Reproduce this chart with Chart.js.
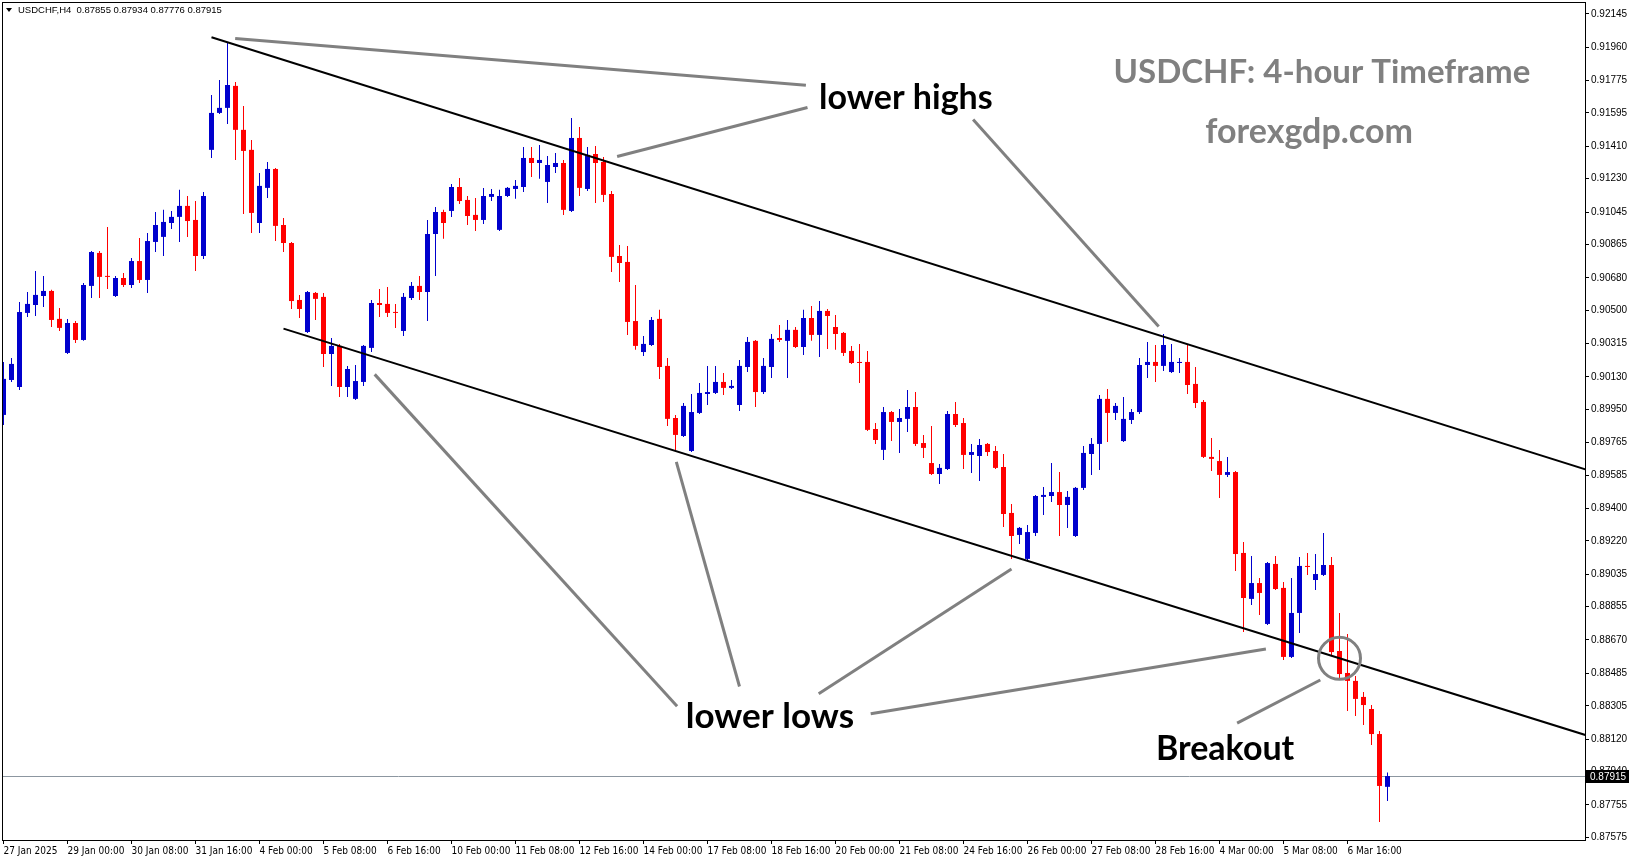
<!DOCTYPE html>
<html>
<head>
<meta charset="utf-8">
<title>USDCHF H4</title>
<script src="https://cdn.jsdelivr.net/npm/chart.js@4.4.1/dist/chart.umd.min.js"></script>
<style>
  html, body { margin: 0; padding: 0; background: #fff; }
  canvas { display: block; }
</style>
</head>
<body>
<canvas id="myChart" width="1631" height="861"></canvas>
<script>
// x axis labels, one every 8 candles
const xTickLabels = ['27 Jan 2025', '29 Jan 00:00', '30 Jan 08:00', '31 Jan 16:00', '4 Feb 00:00', '5 Feb 08:00',
  '6 Feb 16:00', '10 Feb 00:00', '11 Feb 08:00', '12 Feb 16:00', '14 Feb 00:00', '17 Feb 08:00', '18 Feb 16:00',
  '20 Feb 00:00', '21 Feb 08:00', '24 Feb 16:00', '26 Feb 00:00', '27 Feb 08:00', '28 Feb 16:00', '4 Mar 00:00',
  '5 Mar 08:00', '6 Mar 16:00'];
const xTickStep = 8;

// price axis labels
const yTickValues = [0.92145, 0.91960, 0.91775, 0.91595, 0.91410, 0.91230, 0.91045, 0.90865, 0.90680, 0.90500,
  0.90315, 0.90130, 0.89950, 0.89765, 0.89585, 0.89400, 0.89220, 0.89035, 0.88855, 0.88670, 0.88485, 0.88305,
  0.88120, 0.87940, 0.87755, 0.87575];

// H4 candles
let opens = [
  0.89919, 0.90113, 0.90074, 0.90485, 0.90529, 0.90579, 0.90607, 0.90452, 0.90263, 0.90429,
  0.90335, 0.90635, 0.90818, 0.90690, 0.90579, 0.90679, 0.90640, 0.90773, 0.90668, 0.90879,
  0.90907, 0.90984, 0.91018, 0.91079, 0.91001, 0.90801, 0.91390, 0.91595, 0.91623, 0.91745,
  0.91501, 0.91390, 0.90984, 0.91179, 0.91284, 0.90973, 0.90873, 0.90557, 0.90379, 0.90596,
  0.90574, 0.90257, 0.90302, 0.90074, 0.90008, 0.90102, 0.90291, 0.90540, 0.90535, 0.90490,
  0.90385, 0.90568, 0.90635, 0.90601, 0.90923, 0.91045, 0.91051, 0.91184, 0.91112, 0.91029,
  0.91001, 0.91129, 0.90946, 0.91134, 0.91173, 0.91184, 0.91345, 0.91317, 0.91212, 0.91295,
  0.91317, 0.91051, 0.91456, 0.91173, 0.91367, 0.91323, 0.91145, 0.90801, 0.90768, 0.90440,
  0.90268, 0.90307, 0.90452, 0.90191, 0.89902, 0.89802, 0.89719, 0.89930, 0.90035, 0.90041,
  0.90102, 0.90069, 0.89974, 0.90185, 0.90330, 0.90046, 0.90185, 0.90346, 0.90330, 0.90391,
  0.90296, 0.90457, 0.90363, 0.90496, 0.90407, 0.90374, 0.90274, 0.90213, 0.90213, 0.89841,
  0.89725, 0.89935, 0.89880, 0.89897, 0.89963, 0.89763, 0.89652, 0.89591, 0.89619, 0.89924,
  0.89874, 0.89697, 0.89691, 0.89758, 0.89719, 0.89630, 0.89375, 0.89253, 0.89120, 0.89264,
  0.89464, 0.89469, 0.89491, 0.89419, 0.89247, 0.89514, 0.89702, 0.89758, 0.90008, 0.89930,
  0.89774, 0.89891, 0.89935, 0.90196, 0.90213, 0.90191, 0.90157, 0.90207, 0.90213, 0.90091,
  0.89991, 0.89686, 0.89663, 0.89586, 0.89602, 0.89153, 0.88898, 0.88986, 0.88759, 0.89092,
  0.88959, 0.88576, 0.88820, 0.89081, 0.89003, 0.89031, 0.89086, 0.88609, 0.88487, 0.88443,
  0.88354, 0.88287, 0.88148, 0.87855
];
let highs = [
  0.90213, 0.90235, 0.90546, 0.90601, 0.90718, 0.90690, 0.90613, 0.90513, 0.90452, 0.90440,
  0.90651, 0.90829, 0.90829, 0.90962, 0.90690, 0.90707, 0.90790, 0.90901, 0.90929, 0.91045,
  0.91057, 0.91051, 0.91168, 0.91134, 0.91106, 0.91156, 0.91695, 0.91778, 0.91983, 0.91767,
  0.91634, 0.91445, 0.91262, 0.91323, 0.91290, 0.91012, 0.90879, 0.90585, 0.90607, 0.90601,
  0.90596, 0.90346, 0.90313, 0.90191, 0.90196, 0.90307, 0.90557, 0.90618, 0.90629, 0.90535,
  0.90596, 0.90657, 0.90690, 0.91001, 0.91073, 0.91057, 0.91201, 0.91234, 0.91134, 0.91123,
  0.91179, 0.91173, 0.91168, 0.91184, 0.91223, 0.91406, 0.91406, 0.91417, 0.91356, 0.91373,
  0.91334, 0.91567, 0.91517, 0.91406, 0.91412, 0.91351, 0.91162, 0.90862, 0.90857, 0.90640,
  0.90357, 0.90463, 0.90502, 0.90235, 0.89919, 0.89985, 0.90035, 0.90096, 0.90191, 0.90191,
  0.90152, 0.90113, 0.90224, 0.90352, 0.90335, 0.90235, 0.90368, 0.90418, 0.90446, 0.90407,
  0.90502, 0.90524, 0.90551, 0.90507, 0.90474, 0.90379, 0.90302, 0.90313, 0.90274, 0.89874,
  0.89963, 0.89941, 0.89952, 0.90058, 0.90046, 0.89808, 0.89858, 0.89647, 0.89941, 0.89991,
  0.89902, 0.89758, 0.89786, 0.89763, 0.89747, 0.89702, 0.89425, 0.89297, 0.89308, 0.89475,
  0.89519, 0.89652, 0.89602, 0.89497, 0.89519, 0.89747, 0.89791, 0.90030, 0.90063, 0.89985,
  0.90019, 0.89952, 0.90235, 0.90324, 0.90307, 0.90368, 0.90313, 0.90235, 0.90307, 0.90185,
  0.90002, 0.89791, 0.89725, 0.89686, 0.89608, 0.89214, 0.89136, 0.89014, 0.89103, 0.89136,
  0.88992, 0.89014, 0.89131, 0.89153, 0.89147, 0.89264, 0.89131, 0.88820, 0.88703, 0.88470,
  0.88381, 0.88309, 0.88165, 0.87934
];
let lows = [
  0.89863, 0.90102, 0.90058, 0.90463, 0.90468, 0.90518, 0.90407, 0.90385, 0.90257, 0.90318,
  0.90330, 0.90568, 0.90568, 0.90618, 0.90574, 0.90629, 0.90624, 0.90651, 0.90596, 0.90823,
  0.90801, 0.90951, 0.90879, 0.90907, 0.90718, 0.90785, 0.91345, 0.91589, 0.91534, 0.91334,
  0.91034, 0.90929, 0.90929, 0.91123, 0.90884, 0.90823, 0.90507, 0.90457, 0.90374, 0.90446,
  0.90185, 0.90080, 0.90019, 0.90019, 0.90002, 0.90080, 0.90268, 0.90463, 0.90463, 0.90402,
  0.90357, 0.90557, 0.90557, 0.90440, 0.90690, 0.90896, 0.91018, 0.91090, 0.90973, 0.90940,
  0.90979, 0.91106, 0.90940, 0.91129, 0.91118, 0.91156, 0.91240, 0.91229, 0.91095, 0.91262,
  0.91029, 0.91045, 0.91134, 0.91162, 0.91095, 0.91101, 0.90712, 0.90657, 0.90363, 0.90280,
  0.90246, 0.90302, 0.90119, 0.89858, 0.89725, 0.89797, 0.89713, 0.89924, 0.89974, 0.90035,
  0.90030, 0.90063, 0.89941, 0.90157, 0.89963, 0.90035, 0.90124, 0.90324, 0.90124, 0.90291,
  0.90252, 0.90330, 0.90241, 0.90285, 0.90280, 0.90246, 0.90202, 0.90096, 0.89830, 0.89758,
  0.89669, 0.89774, 0.89708, 0.89824, 0.89747, 0.89680, 0.89586, 0.89536, 0.89614, 0.89852,
  0.89619, 0.89597, 0.89552, 0.89691, 0.89619, 0.89297, 0.89120, 0.89203, 0.89114, 0.89247,
  0.89364, 0.89436, 0.89247, 0.89292, 0.89242, 0.89503, 0.89586, 0.89614, 0.89769, 0.89891,
  0.89769, 0.89869, 0.89924, 0.90124, 0.90102, 0.90163, 0.90152, 0.90152, 0.90035, 0.89958,
  0.89680, 0.89608, 0.89458, 0.89575, 0.89053, 0.88714, 0.88864, 0.88809, 0.88753, 0.88948,
  0.88559, 0.88570, 0.88709, 0.89031, 0.88948, 0.89025, 0.88587, 0.88448, 0.88276, 0.88248,
  0.88198, 0.88087, 0.87660, 0.87776
];
let closes = [
  0.90119, 0.90202, 0.90490, 0.90535, 0.90585, 0.90607, 0.90446, 0.90402, 0.90429, 0.90335,
  0.90640, 0.90823, 0.90685, 0.90685, 0.90679, 0.90640, 0.90773, 0.90668, 0.90884, 0.90973,
  0.90990, 0.91018, 0.91079, 0.90995, 0.90801, 0.91134, 0.91595, 0.91623, 0.91750, 0.91501,
  0.91384, 0.91040, 0.91190, 0.91284, 0.90968, 0.90873, 0.90551, 0.90507, 0.90601, 0.90563,
  0.90257, 0.90302, 0.90074, 0.90174, 0.90107, 0.90302, 0.90540, 0.90529, 0.90485, 0.90485,
  0.90574, 0.90635, 0.90601, 0.90923, 0.91045, 0.90984, 0.91184, 0.91106, 0.91023, 0.91001,
  0.91134, 0.91145, 0.91134, 0.91179, 0.91190, 0.91345, 0.91317, 0.91334, 0.91306, 0.91317,
  0.91057, 0.91456, 0.91179, 0.91362, 0.91317, 0.91140, 0.90796, 0.90762, 0.90435, 0.90302,
  0.90313, 0.90446, 0.90185, 0.89897, 0.89808, 0.89969, 0.89935, 0.90041, 0.90046, 0.90102,
  0.90069, 0.90080, 0.90191, 0.90324, 0.90046, 0.90191, 0.90341, 0.90335, 0.90391, 0.90296,
  0.90457, 0.90363, 0.90496, 0.90468, 0.90368, 0.90263, 0.90207, 0.90207, 0.89836, 0.89780,
  0.89935, 0.89880, 0.89902, 0.89963, 0.89758, 0.89736, 0.89591, 0.89625, 0.89924, 0.89863,
  0.89697, 0.89713, 0.89752, 0.89713, 0.89625, 0.89369, 0.89247, 0.89292, 0.89269, 0.89469,
  0.89475, 0.89491, 0.89419, 0.89464, 0.89514, 0.89708, 0.89758, 0.90008, 0.89930, 0.89969,
  0.89897, 0.89935, 0.90196, 0.90213, 0.90191, 0.90307, 0.90213, 0.90213, 0.90085, 0.89985,
  0.89686, 0.89675, 0.89586, 0.89602, 0.89147, 0.88903, 0.88986, 0.88931, 0.89097, 0.88953,
  0.88576, 0.88820, 0.89081, 0.89075, 0.89036, 0.89086, 0.88603, 0.88481, 0.88443, 0.88343,
  0.88309, 0.88148, 0.87860, 0.87915
];

// channel lines [candle index, price]
let upperTrend = [[26, 0.92015], [198, 0.89613]];
let lowerTrend = [[35, 0.90398], [198, 0.88139]];

// grey pointer lines
let pointers = [
  [[28.96, 0.92008], [100.3, 0.91749]],
  [[76.7, 0.91353], [100.5, 0.91625]],
  [[121.2, 0.91558], [144.4, 0.90410]],
  [[46.4, 0.90144], [84.2, 0.88302]],
  [[84.1, 0.89658], [92.0, 0.88412]],
  [[126.0, 0.89064], [101.9, 0.88371]],
  [[108.4, 0.88261], [157.8, 0.88620]],
  [[154.2, 0.88209], [164.6, 0.88448]]
];

let notes = [
  { text: 'lower highs', i: 112.8, p: 0.91678, color: '#000000', size: 34 },
  { text: 'lower lows', i: 95.8, p: 0.88243, color: '#000000', size: 35 },
  { text: 'Breakout', i: 152.7, p: 0.88065, color: '#000000', size: 34 },
  { text: 'USDCHF: 4-hour Timeframe', i: 164.8, p: 0.91822, color: '#808080', size: 33 },
  { text: 'forexgdp.com', i: 163.2, p: 0.91489, color: '#808080', size: 34 }
];
let breakoutRing = { i: 167.0, p: 0.88568, r: 21 };

const BLUE = '#0000cd';
const RED = '#ff0000';
const GREY = '#808080';

let candleColors = opens.map((o, i) => closes[i] >= o ? BLUE : RED);
let last = closes.length - 1;

let datasets = [
  {
    label: 'wick',
    data: opens.map((o, i) => ({ x: i, y: [lows[i], highs[i]] })),
    backgroundColor: candleColors,
    barThickness: 1,
    grouped: false,
    inflateAmount: 0,
    order: 3
  },
  {
    label: 'body',
    data: opens.map((o, i) => ({ x: i, y: [o, closes[i]] })),
    backgroundColor: candleColors,
    barThickness: 5,
    minBarLength: 1,
    grouped: false,
    inflateAmount: 0,
    order: 2
  }
];

[upperTrend, lowerTrend].forEach(t => {
  datasets.push({
    type: 'line',
    data: t.map(pt => ({ x: pt[0], y: pt[1] })),
    borderColor: '#000000',
    borderWidth: 2,
    pointRadius: 0,
    order: 1
  });
});

pointers.forEach(t => {
  datasets.push({
    type: 'line',
    data: t.map(pt => ({ x: pt[0], y: pt[1] })),
    borderColor: GREY,
    borderWidth: 3,
    pointRadius: 0,
    order: 0
  });
});

const overlay = {
  id: 'overlay',
  beforeDatasetsDraw(chart) {
    const { ctx, chartArea: a, scales: { y } } = chart;
    let py = Math.round(y.getPixelForValue(closes[last])) + 0.5;
    ctx.save();
    ctx.strokeStyle = '#8c96a0';
    ctx.lineWidth = 1;
    ctx.beginPath();
    ctx.moveTo(a.left, py);
    ctx.lineTo(a.right, py);
    ctx.stroke();
    ctx.restore();
  },
  afterDatasetsDraw(chart) {
    const { ctx, scales: { x, y } } = chart;
    ctx.save();
    ctx.strokeStyle = GREY;
    ctx.lineWidth = 3;
    ctx.beginPath();
    ctx.arc(x.getPixelForValue(breakoutRing.i), y.getPixelForValue(breakoutRing.p), breakoutRing.r, 0, Math.PI * 2);
    ctx.stroke();

    ctx.textAlign = 'center';
    ctx.textBaseline = 'middle';
    notes.forEach(n => {
      ctx.font = 'bold ' + n.size + 'px Lato, "Open Sans", sans-serif';
      ctx.fillStyle = n.color;
      ctx.fillText(n.text, x.getPixelForValue(n.i), y.getPixelForValue(n.p));
    });
    ctx.restore();
  },
  afterDraw(chart) {
    const { ctx, chartArea: a, scales: { y } } = chart;
    ctx.save();
    // frame
    ctx.strokeStyle = '#000000';
    ctx.lineWidth = 1;
    ctx.strokeRect(a.left - 0.5, a.top - 0.5, a.right - a.left + 1, a.bottom - a.top + 1);

    // header
    ctx.fillStyle = '#000000';
    ctx.beginPath();
    ctx.moveTo(6, 8);
    ctx.lineTo(12, 8);
    ctx.lineTo(9, 12);
    ctx.closePath();
    ctx.fill();
    ctx.font = '9.5px "Liberation Sans", Arial, sans-serif';
    ctx.textAlign = 'left';
    ctx.textBaseline = 'middle';
    let head = 'USDCHF,H4  ' + [opens[last], highs[last], lows[last], closes[last]].map(v => v.toFixed(5)).join(' ');
    ctx.fillText(head, 18, 10);

    // current price tag
    let py = Math.round(y.getPixelForValue(closes[last]));
    ctx.font = '10px "Liberation Sans", Arial, sans-serif';
    ctx.fillStyle = '#000000';
    ctx.fillRect(a.right + 1, py - 6, 43, 13);
    ctx.fillStyle = '#ffffff';
    ctx.fillText(closes[last].toFixed(5), a.right + 5, py + 1);
    ctx.restore();
  }
};

const ctx = document.getElementById('myChart');

new Chart(ctx, {
  type: 'bar',
  data: { datasets: datasets },
  options: {
    responsive: false,
    devicePixelRatio: 1,
    animation: false,
    layout: { padding: { left: 3, top: 3, right: 0, bottom: 0 } },
    plugins: {
      legend: { display: false },
      tooltip: { enabled: false }
    },
    scales: {
      x: {
        type: 'linear',
        offset: false,
        min: -0.0625,
        max: 197.6875,
        border: { display: false },
        grid: { display: true, offset: false, drawOnChartArea: false, drawTicks: true, tickLength: 4, color: '#000000' },
        ticks: {
          autoSkip: false,
          maxRotation: 0,
          align: 'start',
          padding: 1,
          color: '#000000',
          font: { family: '"Liberation Sans Narrow", "DejaVu Sans Condensed", Arial', size: 10 },
          callback: v => xTickLabels[Math.round(v / xTickStep)]
        },
        afterBuildTicks: scale => {
          scale.ticks = xTickLabels.map((l, k) => ({ value: k * xTickStep }));
        },
        afterFit: scale => {
          scale.height = 21;
          scale.paddingLeft = 0;
          scale.paddingRight = 0;
        }
      },
      y: {
        type: 'linear',
        position: 'right',
        min: 0.87560,
        max: 0.92205,
        border: { display: false },
        grid: { display: true, drawOnChartArea: false, drawTicks: true, tickLength: 4, color: '#000000' },
        ticks: {
          padding: 2,
          color: '#000000',
          font: { family: '"Liberation Sans", Arial', size: 10 },
          callback: v => v.toFixed(5)
        },
        afterBuildTicks: scale => {
          scale.ticks = yTickValues.map(v => ({ value: v }));
        },
        afterFit: scale => {
          scale.width = 46;
          scale.paddingTop = 0;
          scale.paddingBottom = 0;
        }
      }
    }
  },
  plugins: [overlay]
});
</script>
</body>
</html>
